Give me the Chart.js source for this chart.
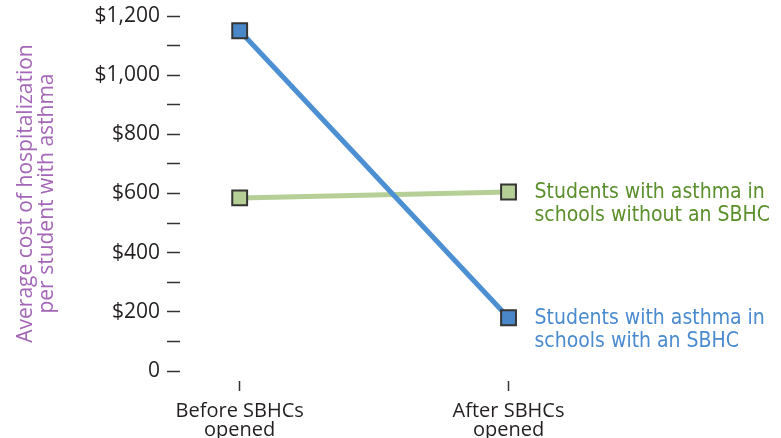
<!DOCTYPE html>
<html>
<head>
<meta charset="utf-8">
<script src="https://cdn.jsdelivr.net/npm/chart.js@4.4.1/dist/chart.umd.min.js"></script>
<style>
  html, body { margin: 0; padding: 0; background: #fff; }
  #wrap { position: relative; width: 781px; height: 438px; }
</style>
</head>
<body>
<div id="wrap"><canvas id="costChart"></canvas></div>
<script>
const periods = [['Before SBHCs', 'opened'], ['After SBHCs', 'opened']];
const withSbhc = [1150, 180];
const withoutSbhc = [585, 605];
const seriesLabels = [
  ['Students with asthma in', 'schools with an SBHC'],
  ['Students with asthma in', 'schools without an SBHC']
];
const yTickValues = [0, 100, 200, 300, 400, 500, 600, 700, 800, 900, 1000, 1100, 1200];

const blue = '#4d8fd3';
const green = '#b5cf97';

function money(v){
  if (v === 0) return '0';
  return '$' + v.toLocaleString('en-US');
}

// writes each series name next to its last point
const endLabels = {
  id: 'endLabels',
  afterDatasetsDraw(chart){
    const ctx = chart.ctx;
    ctx.save();
    ctx.font = '21px "DejaVu Sans Condensed", "DejaVu Sans", sans-serif';
    ctx.textBaseline = 'middle';
    ctx.textAlign = 'left';
    chart.data.datasets.forEach((ds, i) => {
      const pts = chart.getDatasetMeta(i).data;
      const p = pts[pts.length - 1];
      ctx.fillStyle = ds.textColor;
      ds.endText.forEach((line, j) => {
        ctx.fillText(line, p.x + 26, p.y + 1 + j * 22.5);
      });
    });
    ctx.restore();
  }
};

new Chart(document.getElementById('costChart'), {
  type: 'line',
  data: {
    datasets: [
      {
        data: withSbhc.map((v, i) => ({x: i, y: v})),
        borderColor: blue,
        borderWidth: 5,
        pointStyle: 'rect',
        pointRadius: 10.5,
        pointBackgroundColor: '#4a87c9',
        pointBorderColor: '#353535',
        pointBorderWidth: 2,
        endText: seriesLabels[0],
        textColor: '#4a8bd0'
      },
      {
        data: withoutSbhc.map((v, i) => ({x: i, y: v})),
        borderColor: green,
        borderWidth: 5,
        pointStyle: 'rect',
        pointRadius: 10.5,
        pointBackgroundColor: green,
        pointBorderColor: '#353535',
        pointBorderWidth: 2,
        endText: seriesLabels[1],
        textColor: '#5b8f2c'
      }
    ]
  },
  options: {
    responsive: true,
    maintainAspectRatio: false,
    animation: false,
    events: [],
    layout: { padding: { top: 0, right: 10, left: 0, bottom: 0 } },
    plugins: {
      legend: { display: false },
      tooltip: { enabled: false }
    },
    scales: {
      x: {
        type: 'linear',
        min: -0.222,
        max: 1.967,
        afterBuildTicks(scale){
          scale.ticks = periods.map((p, i) => ({value: i}));
        },
        afterFit(scale){ scale.height = 67; },
        border: { display: false },
        grid: {
          drawOnChartArea: false,
          tickLength: 20,
          tickWidth: 1.5,
          tickColor: '#333',
          tickBorderDash: [0, 10, 10, 40]
        },
        ticks: {
          autoSkip: false,
          maxRotation: 0,
          padding: 10,
          color: '#231f20',
          font: { family: '"Open Sans", sans-serif', size: 20, lineHeight: 0.98 },
          callback: (v) => periods[v]
        }
      },
      y: {
        min: 0,
        max: 1200,
        afterBuildTicks(scale){
          scale.ticks = yTickValues.map(v => ({value: v}));
        },
        afterFit(scale){
          scale.width = 180;
          scale.paddingTop = 16;
        },
        border: { display: false },
        grid: {
          drawOnChartArea: false,
          tickLength: 13,
          tickWidth: 1.5,
          tickColor: '#333'
        },
        ticks: {
          padding: 7,
          color: '#231f20',
          font: { family: '"Open Sans", sans-serif', size: 21 },
          callback: (v) => (v % 200 === 0 ? money(v) : '')
        },
        title: {
          display: true,
          text: ['Average cost of hospitalization', 'per student with asthma'],
          color: '#a466b7',
          font: { family: '"Open Sans", sans-serif', size: 21, lineHeight: 1.0 },
          padding: { top: 16, bottom: 0 }
        }
      }
    }
  },
  plugins: [endLabels]
});
</script>
</body>
</html>
